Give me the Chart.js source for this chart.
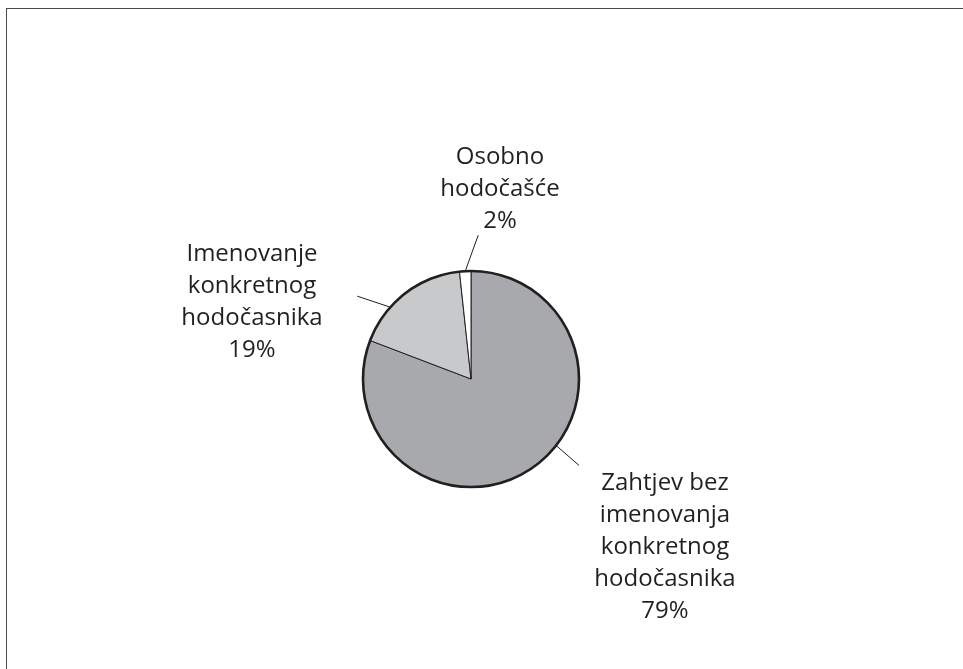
<!DOCTYPE html>
<html lang="hr">
<head>
<meta charset="utf-8">
<title>Hodočašće</title>
<script src="https://cdn.jsdelivr.net/npm/chart.js@4"></script>
<style>
  html, body { margin: 0; padding: 0; background: #fff; }
  .frame {
    position: absolute;
    left: 6px;
    top: 8px;
    right: 0;
    bottom: 0;
    border-top: 1.5px solid #4a4a4a;
    border-left: 1.5px solid #4a4a4a;
  }
  .wrap { position: absolute; left: 0; top: 0; width: 963px; height: 669px; }
</style>
</head>
<body>
<div class="frame"></div>
<div class="wrap"><canvas id="pieChart" width="963" height="669"></canvas></div>
<script>
// categories, printed shares and slice sizes
const categories = [
  ['Zahtjev bez', 'imenovanja', 'konkretnog', 'hodočasnika'],
  ['Imenovanje', 'konkretnog', 'hodočasnika'],
  ['Osobno', 'hodočašće'],
];
const percentLabels = ['79%', '19%', '2%'];
const sliceValues = [80.8, 17.5, 1.7];
const sliceColors = ['#a7a9ac', '#c8c9cb', '#ffffff'];

// where each leader line leaves the slice (fraction of the slice), and where the text sits
const labelLayout = [
  { at: 0.44, lineEnd: [23, 20], text: [194, 104] },
  { at: 0.33, lineEnd: [-33, -11], text: [-219, -125] },
  { at: 0.5, lineEnd: [13, -36], text: [29, -222] },
];

const INK = '#231f20';
const LINE_HEIGHT = 32;

const outlinePlugin = {
  id: 'outline',
  afterDatasetsDraw(chart) {
    const arcs = chart.getDatasetMeta(0).data;
    if (!arcs.length) return;
    const { x, y, outerRadius } = arcs[0];
    const ctx = chart.ctx;
    ctx.save();
    ctx.beginPath();
    ctx.arc(x, y, outerRadius, 0, Math.PI * 2);
    ctx.lineWidth = 2.6;
    ctx.strokeStyle = INK;
    ctx.stroke();
    ctx.restore();
  },
};

const calloutPlugin = {
  id: 'callouts',
  afterDraw(chart) {
    const arcs = chart.getDatasetMeta(0).data;
    const ctx = chart.ctx;
    ctx.save();
    arcs.forEach((arc, index) => {
      const layout = labelLayout[index];
      const angle = arc.startAngle + (arc.endAngle - arc.startAngle) * layout.at;
      const sx = arc.x + Math.cos(angle) * arc.outerRadius;
      const sy = arc.y + Math.sin(angle) * arc.outerRadius;

      ctx.beginPath();
      ctx.moveTo(sx, sy);
      ctx.lineTo(sx + layout.lineEnd[0], sy + layout.lineEnd[1]);
      ctx.lineWidth = 1;
      ctx.strokeStyle = INK;
      ctx.stroke();

      const lines = [...categories[index], percentLabels[index]];
      ctx.fillStyle = INK;
      ctx.font = '24px "Open Sans", "Noto Sans", sans-serif';
      ctx.textAlign = 'center';
      ctx.textBaseline = 'middle';
      lines.forEach((text, row) => {
        ctx.fillText(text, arc.x + layout.text[0], arc.y + layout.text[1] + row * LINE_HEIGHT);
      });
    });
    ctx.restore();
  },
};

new Chart(document.getElementById('pieChart'), {
  type: 'pie',
  data: {
    labels: categories.map((lines) => lines.join(' ')),
    datasets: [
      {
        data: sliceValues,
        backgroundColor: sliceColors,
        borderColor: INK,
        borderWidth: 1,
        hoverOffset: 0,
      },
    ],
  },
  options: {
    responsive: false,
    animation: false,
    radius: 108,
    layout: { padding: { left: 0, right: 21, top: 89, bottom: 0 } },
    plugins: {
      legend: { display: false },
      tooltip: { enabled: false },
    },
  },
  plugins: [outlinePlugin, calloutPlugin],
});
</script>
</body>
</html>
